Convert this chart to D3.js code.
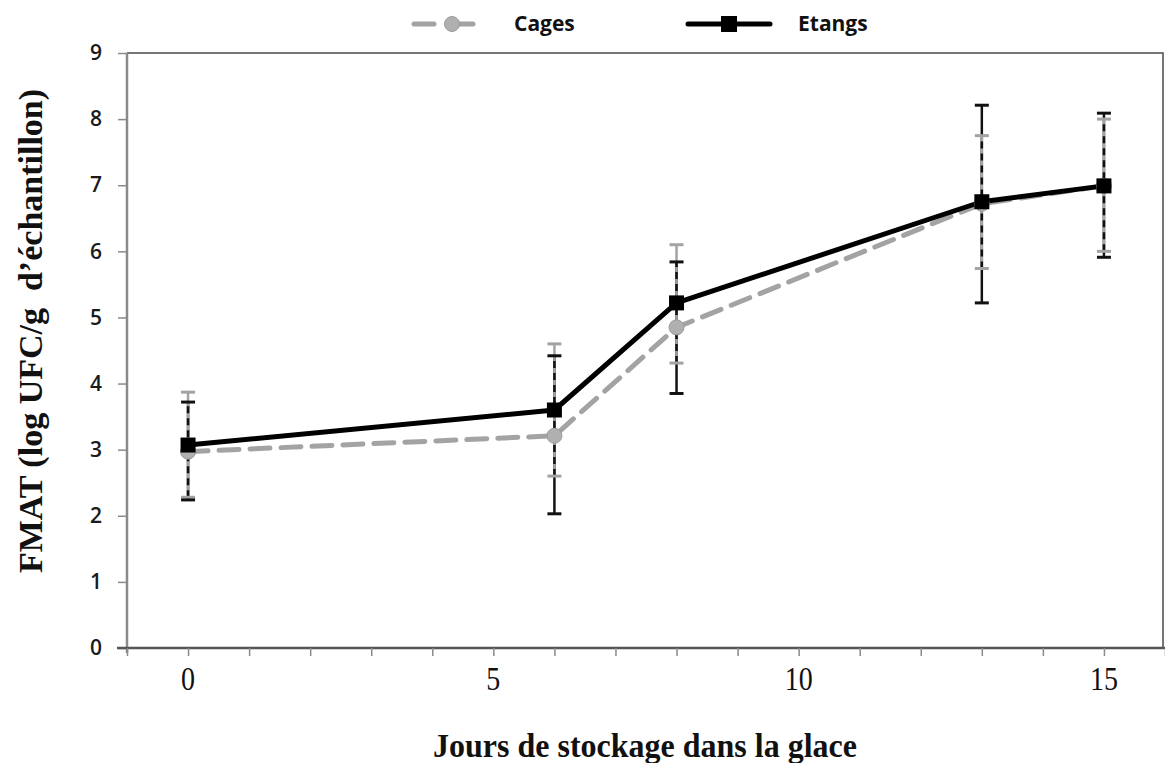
<!DOCTYPE html>
<html>
<head>
<meta charset="utf-8">
<script src="https://cdn.jsdelivr.net/npm/d3@7"></script>
<style>
  html, body { margin: 0; padding: 0; background: #fff; }
  svg { display: block; }
  .pre { white-space: pre; }
</style>
</head>
<body>
<svg id="chart" width="1165" height="763"></svg>
<script>
// Storage days on ice
const days = [0, 6, 8, 13, 15];

// Cages series: mean and error bar ends
const cagesMean = [2.97, 3.21, 4.85, 6.72, 6.99];
const cagesLow  = [2.28, 2.60, 4.31, 5.74, 6.00];
const cagesHigh = [3.87, 4.60, 6.10, 7.75, 8.00];

// Etangs series: mean and error bar ends
const etangsMean = [3.07, 3.60, 5.22, 6.75, 6.99];
const etangsLow  = [2.24, 2.03, 3.85, 5.22, 5.91];
const etangsHigh = [3.72, 4.42, 5.84, 8.21, 8.09];

const yTicks = [0, 1, 2, 3, 4, 5, 6, 7, 8, 9];
const xMajorTicks = [0, 5, 10, 15];
const xMinorTicks = d3.range(-1, 17);

const seriesNames = ["Cages", "Etangs"];

const svg = d3.select("#chart");

const plotLeft = 127, plotRight = 1163, plotTop = 53, plotBottom = 648;
const x = d3.scaleLinear().domain([-1, 16]).range([127, 1165]);
const y = d3.scaleLinear().domain([0, 9]).range([plotBottom, plotTop]);

const grayLine = "#a3a3a3";
const grayFill = "#b0b0b0";
const serif = "'Liberation Serif', 'Times New Roman', serif";
const sans = "'Open Sans', sans-serif";

// Plot frame (top and right)
svg.append("path")
  .attr("d", `M${plotLeft},${plotTop}H${plotRight}V${plotBottom}`)
  .attr("fill", "none")
  .attr("stroke", "#4a4a4a")
  .attr("stroke-width", 1.5);

// Y axis
const yAxis = svg.append("g")
  .attr("transform", `translate(${plotLeft},0)`)
  .call(d3.axisLeft(y).tickValues(yTicks).tickSize(9).tickPadding(16).tickFormat(d3.format("d")));
yAxis.select(".domain").attr("stroke", "#8a8a8a").attr("stroke-width", 2.5)
  .attr("d", `M0,${plotTop}V${plotBottom + 5}`);
yAxis.selectAll(".tick line").attr("stroke", "#8a8a8a").attr("stroke-width", 1.5);
yAxis.selectAll(".tick text")
  .attr("font-family", sans)
  .attr("font-size", 21)
  .attr("font-weight", 600)
  .attr("fill", "#1a1a1a");

// X axis: minor ticks at every day, labels on major ticks
const xAxis = svg.append("g")
  .attr("transform", `translate(0,${plotBottom})`)
  .call(d3.axisBottom(x).tickValues(xMinorTicks).tickSize(8).tickFormat(""));
xAxis.select(".domain").attr("stroke", "#555").attr("stroke-width", 2.5)
  .attr("d", `M${plotLeft - 10},0H1165`);
xAxis.selectAll(".tick line").attr("stroke", "#8a8a8a").attr("stroke-width", 1.5);

// Major tick labels (tall serif digits)
svg.append("g").selectAll("text").data(xMajorTicks).join("text")
  .attr("transform", d => `translate(${x(d)},690) scale(1,1.22)`)
  .attr("text-anchor", "middle")
  .attr("font-family", serif)
  .attr("font-size", 28)
  .attr("fill", "#111")
  .text(d => d);

// Axis titles
svg.append("text")
  .attr("transform", "translate(645,757) scale(1,1.06)")
  .attr("text-anchor", "middle")
  .attr("font-family", serif)
  .attr("font-weight", "bold")
  .attr("font-size", 32)
  .attr("fill", "#111")
  .text("Jours de stockage dans la glace");

svg.append("text")
  .attr("class", "pre")
  .attr("transform", "translate(42,331) rotate(-90)")
  .attr("text-anchor", "middle")
  .attr("font-family", serif)
  .attr("font-weight", "bold")
  .attr("font-size", 34)
  .attr("fill", "#111")
  .text("FMAT (log UFC/g  d\u2019\u00e9chantillon)");

// Error bars
const bars = days.map((d, i) => ({
  d,
  cLo: cagesLow[i], cHi: cagesHigh[i],
  eLo: etangsLow[i], eHi: etangsHigh[i]
}));
const capW = 7;
const eb = svg.append("g");

bars.forEach(b => {
  const cx = x(b.d);
  // Etangs bar, solid black
  eb.append("line").attr("x1", cx).attr("x2", cx)
    .attr("y1", y(b.eLo)).attr("y2", y(b.eHi))
    .attr("stroke", "#111").attr("stroke-width", 2.5);
  // Cages bar, solid gray
  eb.append("line").attr("x1", cx).attr("x2", cx)
    .attr("y1", y(b.cLo)).attr("y2", y(b.cHi))
    .attr("stroke", grayLine).attr("stroke-width", 2.5);
  // shared span: black dashes over gray
  const lo = Math.max(b.cLo, b.eLo), hi = Math.min(b.cHi, b.eHi);
  eb.append("line").attr("x1", cx).attr("x2", cx)
    .attr("y1", y(lo)).attr("y2", y(hi))
    .attr("stroke", "#111").attr("stroke-width", 2.5)
    .attr("stroke-dasharray", "7,5");
  // caps
  [[b.cLo, grayLine], [b.cHi, grayLine], [b.eLo, "#111"], [b.eHi, "#111"]].forEach(([v, c]) => {
    eb.append("line").attr("x1", cx - capW).attr("x2", cx + capW)
      .attr("y1", y(v)).attr("y2", y(v))
      .attr("stroke", c).attr("stroke-width", 3);
  });
});

// Series lines
const line = d3.line().x(d => x(d[0])).y(d => y(d[1]));
const cagesPts = days.map((d, i) => [d, cagesMean[i]]);
const etangsPts = days.map((d, i) => [d, etangsMean[i]]);

svg.append("path").datum(cagesPts).attr("d", line)
  .attr("fill", "none").attr("stroke", grayLine).attr("stroke-width", 5)
  .attr("stroke-dasharray", "20,11").attr("stroke-linecap", "round");

svg.append("path").datum(etangsPts).attr("d", line)
  .attr("fill", "none").attr("stroke", "#000").attr("stroke-width", 5)
  .attr("stroke-linejoin", "round");

// Markers
svg.append("g").selectAll("circle").data(cagesPts).join("circle")
  .attr("cx", d => x(d[0])).attr("cy", d => y(d[1])).attr("r", 7.5)
  .attr("fill", grayFill).attr("stroke", "#9a9a9a").attr("stroke-width", 1);

const sq = 15;
svg.append("g").selectAll("rect").data(etangsPts).join("rect")
  .attr("x", d => x(d[0]) - sq / 2).attr("y", d => y(d[1]) - sq / 2)
  .attr("width", sq).attr("height", sq).attr("fill", "#000");

// Legend
const legend = svg.append("g");
const ly = 24;
legend.append("line").attr("x1", 414).attr("x2", 434).attr("y1", ly).attr("y2", ly)
  .attr("stroke", grayLine).attr("stroke-width", 5).attr("stroke-linecap", "round");
legend.append("line").attr("x1", 452).attr("x2", 473).attr("y1", ly).attr("y2", ly)
  .attr("stroke", grayLine).attr("stroke-width", 5).attr("stroke-linecap", "round");
legend.append("circle").attr("cx", 452).attr("cy", ly).attr("r", 7.5)
  .attr("fill", grayFill).attr("stroke", "#9a9a9a");
legend.append("text").attr("x", 514).attr("y", ly + 6.5)
  .attr("font-family", sans).attr("font-weight", "bold")
  .attr("font-size", 21).attr("fill", "#111").text(seriesNames[0]);

legend.append("line").attr("x1", 688).attr("x2", 770).attr("y1", ly).attr("y2", ly)
  .attr("stroke", "#000").attr("stroke-width", 5).attr("stroke-linecap", "round");
legend.append("rect").attr("x", 729 - 8).attr("y", ly - 8).attr("width", 16).attr("height", 16)
  .attr("fill", "#000");
legend.append("text").attr("x", 798).attr("y", ly + 6.5)
  .attr("font-family", sans).attr("font-weight", "bold")
  .attr("font-size", 21).attr("fill", "#111").text(seriesNames[1]);
</script>
</body>
</html>
